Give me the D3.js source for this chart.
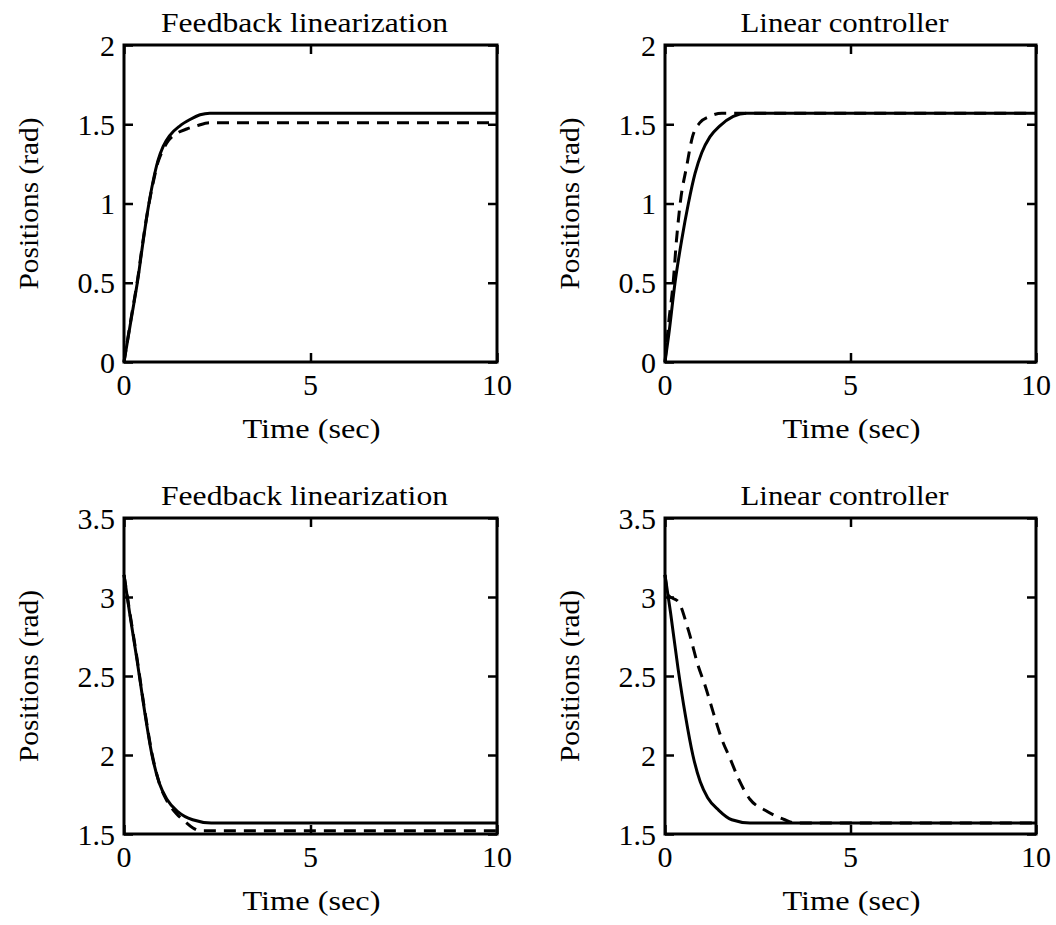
<!DOCTYPE html>
<html>
<head>
<meta charset="utf-8">
<script src="https://cdn.jsdelivr.net/npm/d3@7"></script>
<style>
  body { margin: 0; background: #fff; }
</style>
</head>
<body>
<script>
// tick labels
const xTicks = [0, 5, 10];
const yTicksTop = [0, 0.5, 1, 1.5, 2];
const yTicksBottom = [1.5, 2, 2.5, 3, 3.5];

const titles = ["Feedback linearization", "Linear controller", "Feedback linearization", "Linear controller"];

// top left: feedback linearization, joint 1
const tlSolidT = [0, 0.2, 0.37, 0.5, 0.64, 0.78, 0.91, 1.05, 1.23, 1.5, 1.77, 2.04, 2.3, 10];
const tlSolidV = [0, 0.28, 0.52, 0.74, 0.96, 1.14, 1.27, 1.36, 1.43, 1.49, 1.53, 1.56, 1.57, 1.57];
const tlDashT = [0, 0.2, 0.37, 0.5, 0.64, 0.78, 0.91, 1.05, 1.2, 1.4, 1.68, 1.95, 2.3, 10];
const tlDashV = [0, 0.29, 0.53, 0.75, 0.96, 1.13, 1.26, 1.34, 1.4, 1.44, 1.47, 1.49, 1.51, 1.51];

// top right: linear controller, joint 1
const trSolidT = [0, 0.1, 0.27, 0.45, 0.63, 0.81, 0.99, 1.21, 1.48, 1.84, 2.2, 10];
const trSolidV = [0, 0.17, 0.5, 0.77, 1.0, 1.19, 1.32, 1.42, 1.49, 1.55, 1.57, 1.57];
const trDashT = [0, 0.1, 0.22, 0.31, 0.42, 0.58, 0.74, 0.94, 1.21, 1.53, 10];
const trDashV = [0, 0.25, 0.5, 0.77, 1.02, 1.23, 1.42, 1.51, 1.55, 1.57, 1.57];

// bottom left: feedback linearization, joint 2
const blSolidT = [0, 0.15, 0.35, 0.55, 0.75, 0.95, 1.15, 1.45, 1.84, 2.34, 10];
const blSolidV = [3.14, 2.9, 2.6, 2.28, 2.0, 1.82, 1.72, 1.64, 1.59, 1.57, 1.57];
const blDashT = [0, 0.15, 0.35, 0.55, 0.75, 0.95, 1.15, 1.4, 1.63, 1.84, 2.06, 10];
const blDashV = [3.14, 2.91, 2.61, 2.29, 2.01, 1.82, 1.71, 1.63, 1.58, 1.54, 1.52, 1.52];

// bottom right: linear controller, joint 2
const brSolidT = [0, 0.15, 0.35, 0.55, 0.75, 0.95, 1.15, 1.45, 1.8, 2.29, 10];
const brSolidV = [3.14, 2.9, 2.55, 2.25, 2.0, 1.83, 1.73, 1.65, 1.59, 1.57, 1.57];
const brDashT = [0, 0.09, 0.36, 0.63, 0.9, 1.08, 1.3, 1.53, 1.75, 1.98, 2.29, 2.7, 3.23, 3.5, 10];
const brDashV = [3.14, 3.01, 2.97, 2.79, 2.56, 2.44, 2.27, 2.1, 1.98, 1.85, 1.72, 1.65, 1.59, 1.57, 1.57];

const zip = (t, v) => t.map((d, i) => [d, v[i]]);

const panels = [
  { x0: 124, x1: 497, y0: 362, y1: 45, dom: [0, 2], ticks: yTicksTop, title: titles[0],
    solid: zip(tlSolidT, tlSolidV), dash: zip(tlDashT, tlDashV) },
  { x0: 665, x1: 1036, y0: 362, y1: 45, dom: [0, 2], ticks: yTicksTop, title: titles[1],
    solid: zip(trSolidT, trSolidV), dash: zip(trDashT, trDashV) },
  { x0: 124, x1: 497, y0: 834, y1: 518, dom: [1.5, 3.5], ticks: yTicksBottom, title: titles[2],
    solid: zip(blSolidT, blSolidV), dash: zip(blDashT, blDashV) },
  { x0: 665, x1: 1036, y0: 834, y1: 518, dom: [1.5, 3.5], ticks: yTicksBottom, title: titles[3],
    solid: zip(brSolidT, brSolidV), dash: zip(brDashT, brDashV) }
];

const serif = "Liberation Serif";

const svg = d3.select("body").append("svg")
  .attr("width", 1056)
  .attr("height", 925);

panels.forEach(p => {
  const x = d3.scaleLinear().domain([0, 10]).range([p.x0, p.x1]);
  const y = d3.scaleLinear().domain(p.dom).range([p.y0, p.y1]);
  const g = svg.append("g");

  // inward ticks on all four sides
  const tk = 9;
  g.append("g").attr("transform", `translate(0,${p.y0})`)
    .call(d3.axisBottom(x).tickValues(xTicks).tickSize(-tk).tickSizeOuter(0).tickFormat(""));
  g.append("g").attr("transform", `translate(0,${p.y1})`)
    .call(d3.axisTop(x).tickValues(xTicks).tickSize(-tk).tickSizeOuter(0).tickFormat(""));
  g.append("g").attr("transform", `translate(${p.x0},0)`)
    .call(d3.axisLeft(y).tickValues(p.ticks).tickSize(-tk).tickSizeOuter(0).tickFormat(""));
  g.append("g").attr("transform", `translate(${p.x1},0)`)
    .call(d3.axisRight(y).tickValues(p.ticks).tickSize(-tk).tickSizeOuter(0).tickFormat(""));
  g.selectAll(".domain").remove();
  g.selectAll(".tick line").attr("stroke", "#000").attr("stroke-width", 2.5);

  // frame
  g.append("rect")
    .attr("x", p.x0).attr("y", p.y1)
    .attr("width", p.x1 - p.x0).attr("height", p.y0 - p.y1)
    .attr("fill", "none").attr("stroke", "#000").attr("stroke-width", 3);

  // tick labels
  g.selectAll(".xl").data(xTicks).enter().append("text")
    .style("font-family", serif)
    .attr("x", d => x(d)).attr("y", p.y0 + 33)
    .attr("text-anchor", "middle").attr("font-size", 30)
    .text(d => d);
  g.selectAll(".yl").data(p.ticks).enter().append("text")
    .style("font-family", serif)
    .attr("x", p.x0 - 9).attr("y", d => y(d)).attr("dy", "0.35em")
    .attr("text-anchor", "end").attr("font-size", 30)
    .text(d => d);

  // labels
  g.append("text")
    .style("font-family", serif)
    .attr("x", (p.x0 + p.x1) / 2 - 6).attr("y", p.y1 - 13)
    .attr("text-anchor", "middle").attr("font-size", 28)
    .attr("textLength", p.title === "Feedback linearization" ? 287 : 208)
    .attr("lengthAdjust", "spacingAndGlyphs")
    .text(p.title);
  g.append("text")
    .style("font-family", serif)
    .attr("x", (p.x0 + p.x1) / 2 + 1).attr("y", p.y0 + 76)
    .attr("text-anchor", "middle").attr("font-size", 28)
    .attr("textLength", 138).attr("lengthAdjust", "spacingAndGlyphs")
    .text("Time (sec)");
  const yl = p.x0 - 86;
  g.append("text")
    .style("font-family", serif)
    .attr("transform", `translate(${yl},${(p.y0 + p.y1) / 2}) rotate(-90)`)
    .attr("text-anchor", "middle").attr("font-size", 27)
    .attr("textLength", 172).attr("lengthAdjust", "spacingAndGlyphs")
    .text("Positions (rad)");

  // curves
  const line = d3.line()
    .x(d => x(d[0])).y(d => y(d[1]))
    .curve(d3.curveMonotoneX);
  g.append("path").datum(p.dash)
    .attr("d", line).attr("fill", "none").attr("stroke", "#000")
    .attr("stroke-width", 3).attr("stroke-dasharray", "12,8");
  g.append("path").datum(p.solid)
    .attr("d", line).attr("fill", "none").attr("stroke", "#000")
    .attr("stroke-width", 3);
});
</script>
</body>
</html>
